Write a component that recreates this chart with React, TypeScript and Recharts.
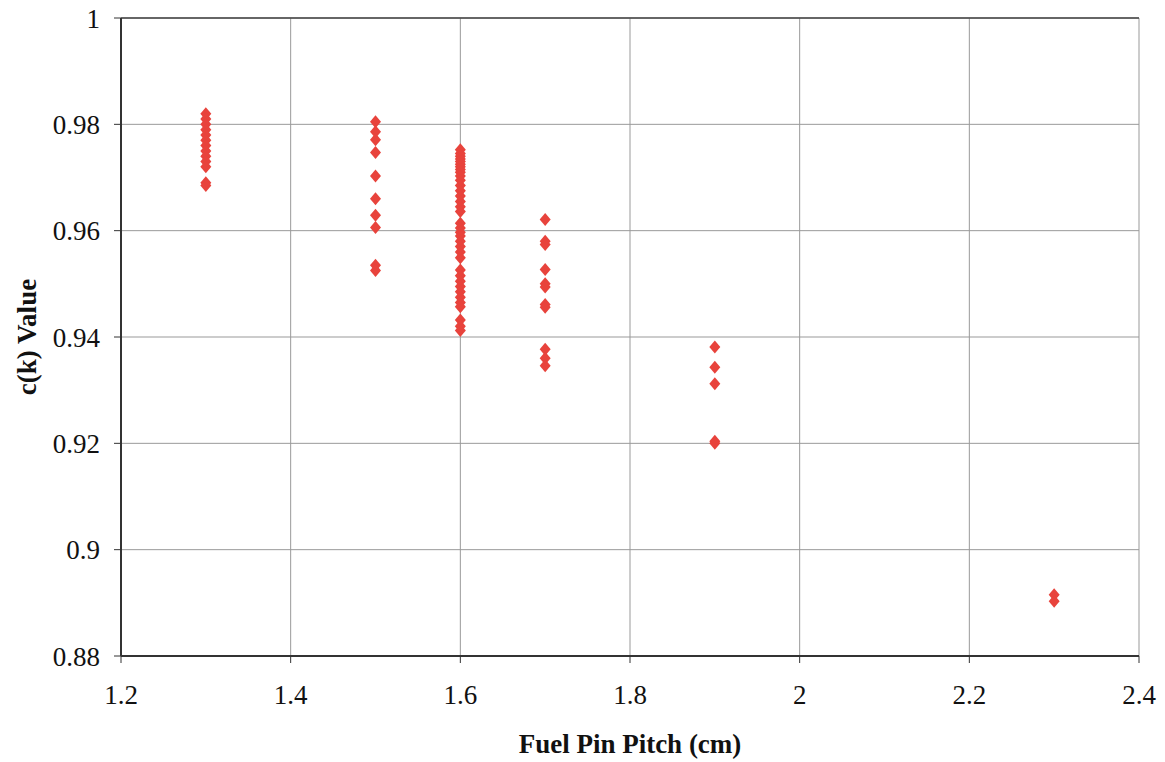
import { ScatterChart, Scatter, XAxis, YAxis, CartesianGrid, ReferenceLine } from 'recharts'

const pitch13 = [0.982, 0.981, 0.980, 0.979, 0.978, 0.977, 0.976, 0.975, 0.974, 0.973, 0.972, 0.969, 0.9685]
const pitch15 = [0.9805, 0.9786, 0.9771, 0.9747, 0.9703, 0.966, 0.9629, 0.9606, 0.9535, 0.9525]
const pitch16 = [
  0.9752, 0.9745, 0.974, 0.9735, 0.973, 0.9725, 0.972, 0.9715, 0.971, 0.9703, 0.9695, 0.9685,
  0.9675, 0.9665, 0.9655, 0.9645, 0.9636, 0.9614, 0.9605, 0.9597, 0.959, 0.958, 0.957, 0.956,
  0.9549, 0.9526, 0.9515, 0.9505, 0.9495, 0.9485, 0.9475, 0.9465, 0.9457, 0.9432, 0.942, 0.9412,
]
const pitch17 = [0.9621, 0.958, 0.9574, 0.9527, 0.95, 0.9494, 0.9461, 0.9456, 0.9377, 0.936, 0.9346]
const pitch19 = [0.9381, 0.9343, 0.9312, 0.9204, 0.92]
const pitch23 = [0.8915, 0.8903]

const groups: [number, number[]][] = [
  [1.3, pitch13], [1.5, pitch15], [1.6, pitch16], [1.7, pitch17], [1.9, pitch19], [2.3, pitch23],
]
const points = groups.flatMap(([x, ys]) => ys.map(y => ({ x, y })))

const xTicks = [1.2, 1.4, 1.6, 1.8, 2, 2.2, 2.4]
const yTicks = [0.88, 0.9, 0.92, 0.94, 0.96, 0.98, 1]

const font = '"Liberation Serif", "Times New Roman", serif'
const titleStyle = { fontSize: 27, fontWeight: 'bold', fontFamily: font, fill: '#111' }

// custom ticks so the font size sticks
function XTick({ x, y, payload }: any) {
  return (
    <text x={x} y={y} dy="0.71em" textAnchor="middle" fontSize={27} fontFamily={font} fill="#111">
      {payload.value}
    </text>
  )
}

function YTick({ x, y, payload }: any) {
  return (
    <text x={x} y={y} dy="0.355em" textAnchor="end" fontSize={27} fontFamily={font} fill="#111">
      {payload.value}
    </text>
  )
}

function Diamond({ cx, cy }: { cx?: number; cy?: number }) {
  if (cx == null || cy == null) return null
  return <polygon points={`${cx},${cy - 6.5} ${cx + 5.5},${cy} ${cx},${cy + 6.5} ${cx - 5.5},${cy}`} fill="#e8433c" />
}

export default function App() {
  return (
    <div style={{ position: 'absolute', left: 0, top: 0, background: '#fff', fontFamily: font }}>
      <ScatterChart width={1165} height={762} margin={{ top: 18, right: 26, left: 20, bottom: 10 }}>
        <CartesianGrid stroke="#999" strokeWidth={1} />
        <XAxis
          type="number" dataKey="x" domain={[1.2, 2.4]} ticks={xTicks}
          tick={<XTick />} tickLine={{ stroke: '#333' }} tickSize={7} tickMargin={22}
          axisLine={{ stroke: '#333', strokeWidth: 2 }} height={96}
          label={{ value: 'Fuel Pin Pitch (cm)', position: 'insideBottom', offset: -1, style: titleStyle }}
        />
        <YAxis
          type="number" dataKey="y" domain={[0.88, 1]} ticks={yTicks}
          tick={<YTick />} tickLine={{ stroke: '#333' }} tickSize={7} tickMargin={14}
          axisLine={{ stroke: '#333', strokeWidth: 2 }} width={101}
          label={{ value: 'c(k) Value', angle: -90, position: 'insideLeft', offset: 6, style: { ...titleStyle, textAnchor: 'middle' } }}
        />
        <ReferenceLine y={1} stroke="#444" strokeWidth={1.5} />
        <Scatter data={points} shape={<Diamond />} isAnimationActive={false} />
      </ScatterChart>
    </div>
  )
}
